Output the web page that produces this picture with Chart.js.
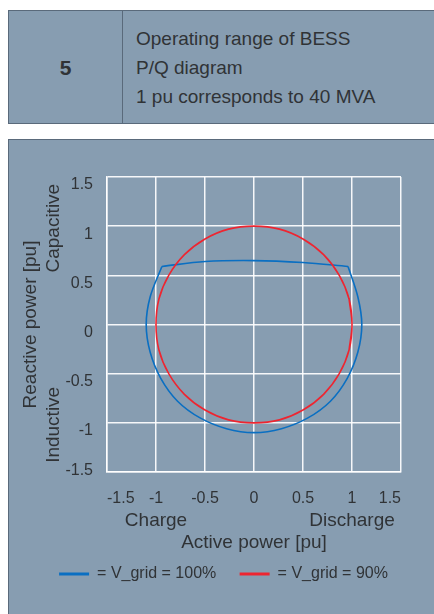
<!DOCTYPE html>
<html lang="en">
<head>
<meta charset="UTF-8">
<title>Operating range of BESS</title>
<script src="https://cdn.jsdelivr.net/npm/chart.js@4.4.0/dist/chart.umd.min.js"></script>
<style>
  body { margin:0; width:434px; height:614px; overflow:hidden; position:relative; background:#fff;
         font-family:"Liberation Sans", Arial, sans-serif; color:#303336; }
  .head { position:absolute; left:8px; top:10px; width:440px; height:112px; background:#879db1;
          border:1px solid #5a6a7b; border-right:none; }
  .num { position:absolute; left:0; top:0; width:113px; height:112px; border-right:1.5px solid #5a6a7b;
         font-weight:bold; font-size:21px; line-height:114px; text-align:center; }
  .txt { position:absolute; left:127px; top:13px; font-size:19px; line-height:29px; }
  .panel { position:absolute; left:8px; top:139px; width:440px; height:490px; background:#879db1;
           border:1px solid #5a6a7b; }
  #chart { position:absolute; left:0; top:0; }
</style>
</head>
<body>
<div class="head">
  <div class="num">5</div>
  <div class="txt">Operating range of BESS<br>P/Q diagram<br>1 pu corresponds to 40 MVA</div>
</div>
<div class="panel"></div>
<canvas id="chart" width="434" height="614"></canvas>

<script>
// tick labels and annotations
var tickLabels = ['-1.5', '-1', '-0.5', '0', '0.5', '1', '1.5'];
var xSideLabels = ['Charge', 'Discharge'];
var xSideValues = [-1, 1];
var ySideLabels = ['Capacitive', 'Inductive'];
var ySideValues = [1, -1];
var seriesNames = ['= V_grid = 100%', '= V_grid = 90%'];

// V_grid = 100% : lower arc
var blueArcP = [0.96, 1.06, 1.10, 1.06, 0.95, 0.78, 0.55, 0.28, 0.00, -0.28, -0.55, -0.78, -0.95, -1.06, -1.10, -1.06, -0.94];
var blueArcQ = [0.59, 0.28, 0.00, -0.28, -0.55, -0.78, -0.95, -1.06, -1.10, -1.06, -0.95, -0.78, -0.55, -0.28, 0.00, 0.28, 0.59];
// V_grid = 100% : flat top (capacitive limit)
var blueTopP = [-0.94, -0.50, 0.00, 0.50, 0.96];
var blueTopQ = [0.59, 0.64, 0.65, 0.63, 0.59];
// V_grid = 90% : circle
var redP = [0.97, 1.00, 0.97, 0.87, 0.71, 0.50, 0.26, 0.00, -0.26, -0.50, -0.71, -0.87, -0.97, -1.00, -0.97, -0.87, -0.71, -0.50, -0.26, 0.00, 0.26, 0.50, 0.71, 0.87, 0.97, 1.00, 0.97];
var redQ = [-0.26, 0.00, 0.26, 0.50, 0.71, 0.87, 0.97, 1.00, 0.97, 0.87, 0.71, 0.50, 0.26, 0.00, -0.26, -0.50, -0.71, -0.87, -0.97, -1.00, -0.97, -0.87, -0.71, -0.50, -0.26, 0.00, 0.26];

var BLUE = '#0a6fc2';
var RED = '#ee2530';
var TEXT = '#303336';
var GRID = 'rgba(255,255,255,0.92)';
var FONT = '"Liberation Sans", Arial, sans-serif';

function pts(px, qy) {
    return px.map(function (p, i) { return { x: p, y: qy[i] }; });
}

function line(data, color) {
    return { data: data, showLine: true, borderColor: color, backgroundColor: color,
             borderWidth: 1.6, pointRadius: 0, tension: 0.34, fill: false };
}

// side texts: Charge / Discharge, Capacitive / Inductive
var sideText = {
    id: 'sideText',
    afterDraw: function (chart) {
        var ctx = chart.ctx, xs = chart.scales.x, ys = chart.scales.y;
        ctx.save();
        ctx.fillStyle = TEXT;
        ctx.font = '19px ' + FONT;
        ctx.textAlign = 'center';
        ctx.textBaseline = 'alphabetic';
        xSideLabels.forEach(function (t, i) {
            ctx.fillText(t, xs.getPixelForValue(xSideValues[i]), chart.chartArea.bottom + 54);
        });
        ctx.textBaseline = 'middle';
        ySideLabels.forEach(function (t, i) {
            ctx.save();
            ctx.translate(54, ys.getPixelForValue(ySideValues[i]) + 2);
            ctx.rotate(-Math.PI / 2);
            ctx.fillText(t, 0, 0);
            ctx.restore();
        });
        ctx.restore();
    }
};

Chart.defaults.font.family = FONT;
Chart.defaults.color = TEXT;

new Chart(document.getElementById('chart'), {
    type: 'scatter',
    data: {
        datasets: [
            line(pts(redP, redQ), RED),
            line(pts(blueArcP, blueArcQ), BLUE),
            line(pts(blueTopP, blueTopQ), BLUE)
        ]
    },
    options: {
        responsive: false,
        animation: false,
        devicePixelRatio: 1,
        layout: { padding: { left: 46, right: 33, top: 177, bottom: 22 } },
        plugins: {
            tooltip: { enabled: false },
            legend: {
                position: 'bottom',
                labels: {
                    boxWidth: 30, boxHeight: 3, padding: 10, color: TEXT,
                    font: { size: 16 },
                    generateLabels: function () {
                        return [
                            // trailing spaces widen the gap between the two entries
                            { text: seriesNames[0] + '   ', fillStyle: BLUE, strokeStyle: BLUE, lineWidth: 0, fontColor: TEXT },
                            { text: seriesNames[1], fillStyle: RED, strokeStyle: RED, lineWidth: 0, fontColor: TEXT }
                        ];
                    }
                }
            }
        },
        scales: {
            x: {
                type: 'linear', min: -1.5, max: 1.5,
                ticks: { stepSize: 0.5, align: 'inner', padding: 17, font: { size: 16 }, color: TEXT,
                         callback: function (v, i) { return tickLabels[i]; } },
                grid: { color: GRID, lineWidth: 1.5, drawTicks: false },
                border: { color: GRID, width: 1.5 },
                title: { display: true, text: 'Active power [pu]', color: TEXT, font: { size: 19 },
                         padding: { top: 0, bottom: 1.6 } },
                afterFit: function (s) { s.height = 84; }
            },
            y: {
                type: 'linear', min: -1.5, max: 1.5,
                ticks: { stepSize: 0.5, padding: 14, labelOffset: 8, font: { size: 16 }, color: TEXT,
                         callback: function (v, i) { return i === 0 ? [tickLabels[i], ''] : tickLabels[i]; } },
                grid: { color: GRID, lineWidth: 1.5, drawTicks: false },
                border: { color: GRID, width: 1.5 },
                title: { display: true, text: 'Reactive power [pu]', color: TEXT, font: { size: 19 },
                         padding: { top: -26.4, bottom: 0 } },
                afterFit: function (s) { s.width = 61; }
            }
        }
    },
    plugins: [sideText]
});
</script>
</body>
</html>
